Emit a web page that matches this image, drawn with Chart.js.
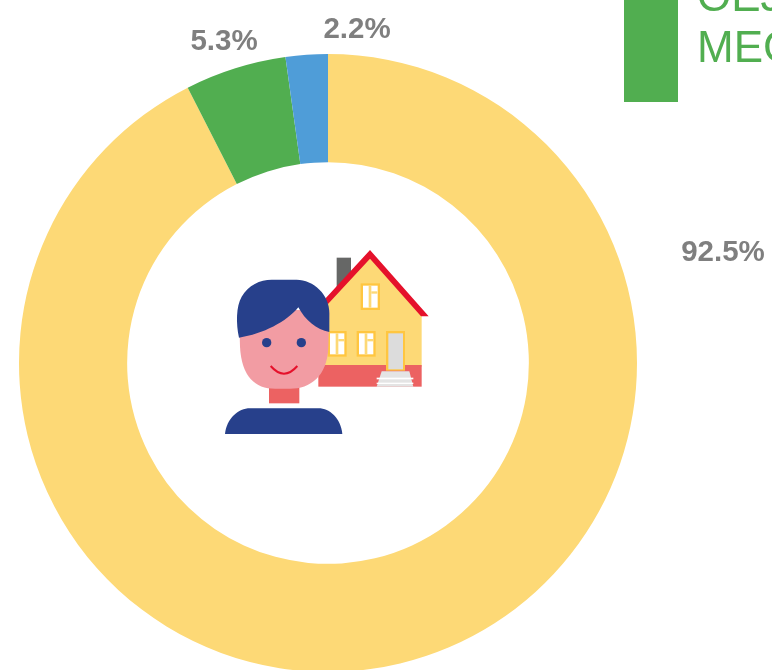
<!DOCTYPE html>
<html>
<head>
<meta charset="utf-8">
<style>
html,body{margin:0;padding:0;background:#fff;width:772px;height:670px;overflow:hidden}
#wrap{position:absolute;left:0;top:0;width:772px;height:670px}
</style>
<script src="https://cdn.jsdelivr.net/npm/chart.js@4"></script>
</head>
<body>
<div id="wrap"><canvas id="c" width="772" height="670"></canvas></div>
<script>
const categories = ['Yellow share', 'Green share', 'Blue share'];
const shares = [92.5, 5.3, 2.2];
const sliceColors = ['#FDD976', '#51AE50', '#4F9DD8'];
const labelTexts = ['92.5%', '5.3%', '2.2%'];
const legendLines = ['OEJ', 'MEG'];

const overlay = {
  id: 'overlay',
  afterDraw(chart) {
    const g = chart.ctx;
    g.save();
    // percentage labels
    const at = [[723, 253], [224, 42], [357, 30]];
    g.font = 'bold 29.5px "Liberation Sans", Arial, sans-serif';
    g.fillStyle = '#7F7F7F';
    g.textAlign = 'center';
    g.textBaseline = 'middle';
    labelTexts.forEach((t, i) => g.fillText(t, at[i][0], at[i][1]));
    // clipped legend
    g.fillStyle = '#51AE50';
    g.fillRect(624, -10, 54, 112);
    g.font = '44px "Liberation Sans", Arial, sans-serif';
    g.textAlign = 'left';
    g.textBaseline = 'alphabetic';
    g.fillText(legendLines[0], 697, 11);
    g.fillText(legendLines[1], 697, 62);
    // icon, drawn in the 3x crop's units
    g.translate(200, 230);
    g.scale(1 / 3, 1 / 3);
    const poly = (pts, col) => {
      g.beginPath();
      pts.forEach((p, i) => i ? g.lineTo(p[0], p[1]) : g.moveTo(p[0], p[1]));
      g.closePath();
      g.fillStyle = col;
      g.fill();
    };
    const rect = (x, y, w, h, col) => { g.fillStyle = col; g.fillRect(x, y, w, h); };
    // chimney
    rect(410, 83, 43, 95, '#666766');
    // house body
    poly([[510, 80], [665, 258], [665, 410], [355, 410], [355, 240]], '#FDD976');
    rect(355, 405, 310, 65, '#EC6262');
    // roof
    poly([[510, 60], [686, 259], [663, 259], [510, 86], [384, 222], [372, 210]], '#E5112B');
    // windows
    [[482, 160, 58, 80], [383, 303, 57, 77], [470, 303, 57, 77]].forEach(w => {
      rect(w[0], w[1], w[2], w[3], '#FFC640');
      rect(w[0] + 7, w[1] + 7, w[2] - 14, w[3] - 14, '#fff');
      rect(w[0] + 24, w[1] + 7, 8, w[3] - 14, '#FDD976');
      rect(w[0] + 32, w[1] + 24, 18, 7, '#FDD976');
    });
    // door
    rect(558, 303, 57, 119, '#FFC640');
    rect(565, 310, 44, 108, '#DCDCDC');
    // steps
    poly([[545, 424], [628, 424], [640, 470], [530, 470]], '#E4E4E4');
    rect(530, 443, 110, 5, '#fff');
    rect(530, 458, 110, 4, '#fff');
    // neck
    rect(207, 465, 91, 55, '#EC6262');
    // head
    g.beginPath();
    g.moveTo(117, 240);
    g.lineTo(388, 240);
    g.lineTo(385, 350);
    g.bezierCurveTo(382, 440, 330, 476, 270, 476);
    g.lineTo(225, 476);
    g.bezierCurveTo(165, 476, 125, 440, 120, 350);
    g.closePath();
    g.fillStyle = '#F29CA3'; g.fill();
    // hair
    g.beginPath();
    g.moveTo(117, 323);
    g.bezierCurveTo(108, 280, 108, 230, 125, 200);
    g.bezierCurveTo(145, 165, 180, 149, 215, 149);
    g.lineTo(290, 149);
    g.bezierCurveTo(340, 149, 390, 195, 388, 250);
    g.lineTo(388, 306);
    g.bezierCurveTo(350, 300, 315, 270, 295, 232);
    g.bezierCurveTo(260, 275, 190, 312, 117, 323);
    g.closePath();
    g.fillStyle = '#27408B'; g.fill();
    // eyes
    [[200, 338], [304, 338]].forEach(e => {
      g.beginPath(); g.arc(e[0], e[1], 14, 0, Math.PI * 2); g.fillStyle = '#27408B'; g.fill();
    });
    // smile
    g.beginPath();
    g.moveTo(212, 408);
    g.quadraticCurveTo(252, 454, 292, 408);
    g.strokeStyle = '#E5112B'; g.lineWidth = 6; g.stroke();
    // body
    g.beginPath();
    g.moveTo(75, 612);
    g.bezierCurveTo(80, 565, 115, 535, 150, 535);
    g.lineTo(355, 535);
    g.bezierCurveTo(390, 535, 422, 565, 427, 612);
    g.closePath();
    g.fillStyle = '#27408B'; g.fill();
    g.restore();
  }
};

new Chart(document.getElementById('c'), {
  type: 'doughnut',
  data: {
    labels: categories,
    datasets: [{ data: shares, backgroundColor: sliceColors, borderWidth: 0 }]
  },
  options: {
    responsive: false,
    animation: false,
    radius: 309,
    cutout: '65%',
    layout: { padding: { left: 19, right: 135, top: 56, bottom: 0 } },
    plugins: { legend: { display: false }, tooltip: { enabled: false } }
  },
  plugins: [overlay]
});
</script>
</body>
</html>
